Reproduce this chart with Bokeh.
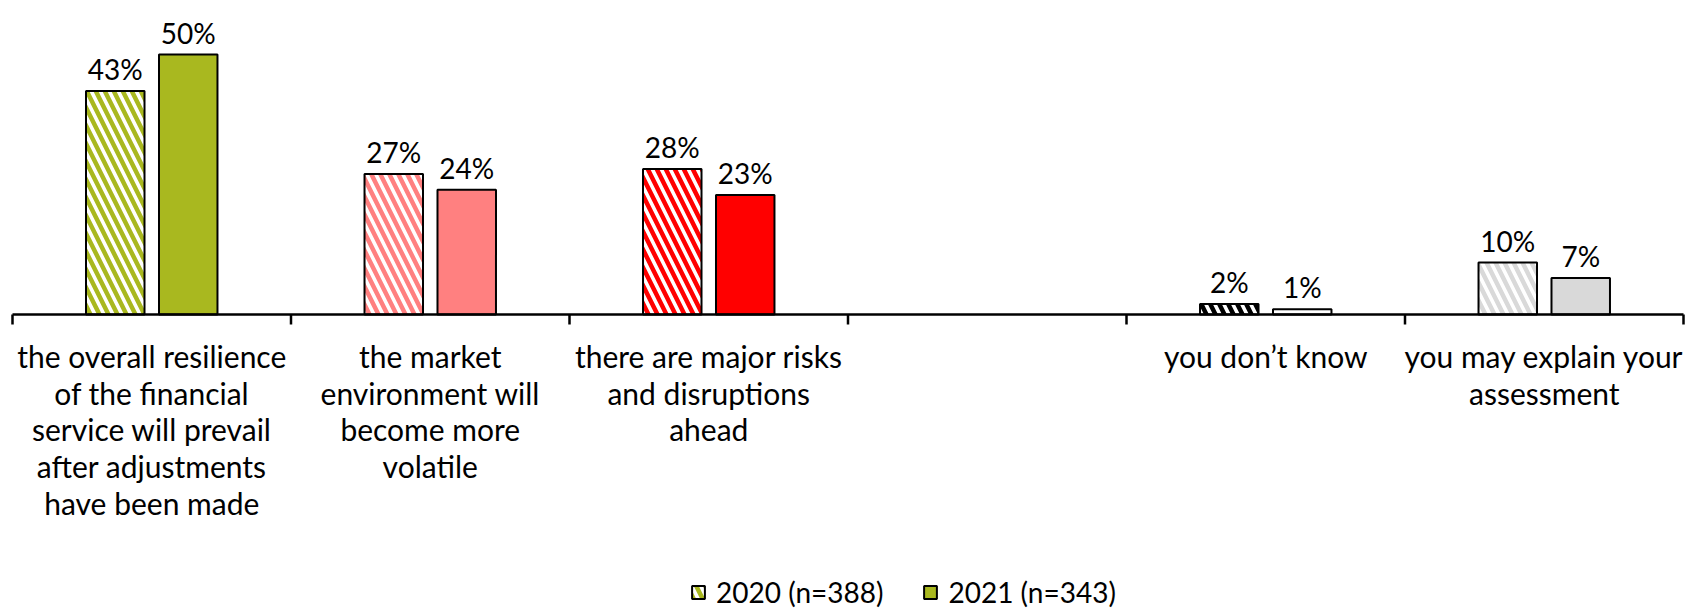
from bokeh.plotting import figure
from bokeh.models import ColumnDataSource, Range1d, Legend, LegendItem
from bokeh.core.properties import value
from bokeh.embed import file_html
from bokeh.resources import INLINE

# Survey answers (share of respondents, %)
categories = [
    "the overall resilience\nof the financial\nservice will prevail\nafter adjustments\nhave been made",
    "the market\nenvironment will\nbecome more\nvolatile",
    "there are major risks\nand disruptions\nahead",
    "",
    "you don\u2019t know",
    "you may explain your\nassessment",
]
share_2020 = [43, 27, 28, None, 2, 10]
share_2021 = [50, 24, 23, None, 1, 7]
series_labels = ["2020 (n=388)", "2021 (n=343)"]

# colour for each answer (hatch colour for 2020, fill colour for 2021)
hatch_colors = ["#A9B81F", "#FF8080", "#FF0000", None, "#000000", "#D9D9D9"]
fill_colors = ["#A9B81F", "#FF8080", "#FF0000", None, "#FFFFFF", "#D9D9D9"]

FONT = "Lato"
VALUE_FS = "28px"
CAT_FS = "30px"
LEGEND_FS = "28px"
W, H = 1691, 609
PX_PER_UNIT_Y = 5.2          # screen px per percentage point
AXIS_Y_PX = 314              # axis line position from the top
CAT_PX = 278.5               # width of one category slot
LEFT_PX = 12                 # axis start
BAR_W = 0.21
OFFSET = 0.131

n = len(categories)
p = figure(
    width=W, height=H, output_backend="svg", toolbar_location=None,
    x_axis_type=None, y_axis_type=None, min_border=0,
    x_range=Range1d(-LEFT_PX / CAT_PX, (W - LEFT_PX) / CAT_PX),
    y_range=Range1d(-(H - AXIS_Y_PX) / PX_PER_UNIT_Y, AXIS_Y_PX / PX_PER_UNIT_Y),
)
p.outline_line_color = None
p.xgrid.visible = False
p.ygrid.visible = False
p.background_fill_color = "white"
p.border_fill_color = "white"


def series_source(values, shift, colors):
    xs, ys, cs, txt = [], [], [], []
    for i, v in enumerate(values):
        if v is None:
            continue
        xs.append(i + 0.5 + shift)
        ys.append(v)
        cs.append(colors[i])
        txt.append(f"{v}%")
    return ColumnDataSource(dict(x=xs, top=ys, color=cs, label=txt))


src20 = series_source(share_2020, -OFFSET, hatch_colors)
src21 = series_source(share_2021, OFFSET, fill_colors)

r20 = p.vbar(x="x", top="top", bottom=0, width=BAR_W, source=src20,
             fill_color="white", hatch_pattern="\\", hatch_color="color",
             hatch_scale=18, hatch_weight=4.5,
             line_color="black", line_width=2)
r21 = p.vbar(x="x", top="top", bottom=0, width=BAR_W, source=src21,
             fill_color="color", line_color="black", line_width=2)

# value labels above the bars
for src in (src20, src21):
    p.text(x="x", y="top", text="label", source=src,
           text_font=value(FONT), text_font_size=VALUE_FS, text_color="black",
           text_align="center", text_baseline="alphabetic", y_offset=-22)

# category axis: baseline and boundary ticks
p.segment(x0=[0], y0=[0], x1=[n], y1=[0], line_color="black", line_width=2.5)
p.ray(x=list(range(n + 1)), y=[0] * (n + 1), length=10, length_units="screen",
      angle=-1.5707963, line_color="black", line_width=2.5)

# multi-line category labels
lx, ltxt, loff = [], [], []
for i, cat in enumerate(categories):
    for j, line in enumerate(cat.split("\n")):
        if not line:
            continue
        lx.append(i + 0.5)
        ltxt.append(line)
        loff.append(41.5 + j * 36.7)
lab_src = ColumnDataSource(dict(x=lx, y=[0] * len(lx), text=ltxt, yoff=loff))
p.text(x="x", y="y", text="text", y_offset="yoff", source=lab_src,
       text_font=value(FONT), text_font_size=CAT_FS, text_color="black",
       text_align="center", text_baseline="alphabetic")

legend = Legend(
    items=[LegendItem(label=series_labels[0], renderers=[r20], index=0),
           LegendItem(label=series_labels[1], renderers=[r21], index=0)],
    orientation="horizontal", location=(690, 0),
    label_text_font=FONT, label_text_font_size=LEGEND_FS, label_text_color="black",
    glyph_width=16, glyph_height=16, label_standoff=10, spacing=39,
    padding=0, margin=0, border_line_color=None, background_fill_alpha=0,
)
p.add_layout(legend, "center")

open("out.html", "w").write(file_html(p, INLINE))
